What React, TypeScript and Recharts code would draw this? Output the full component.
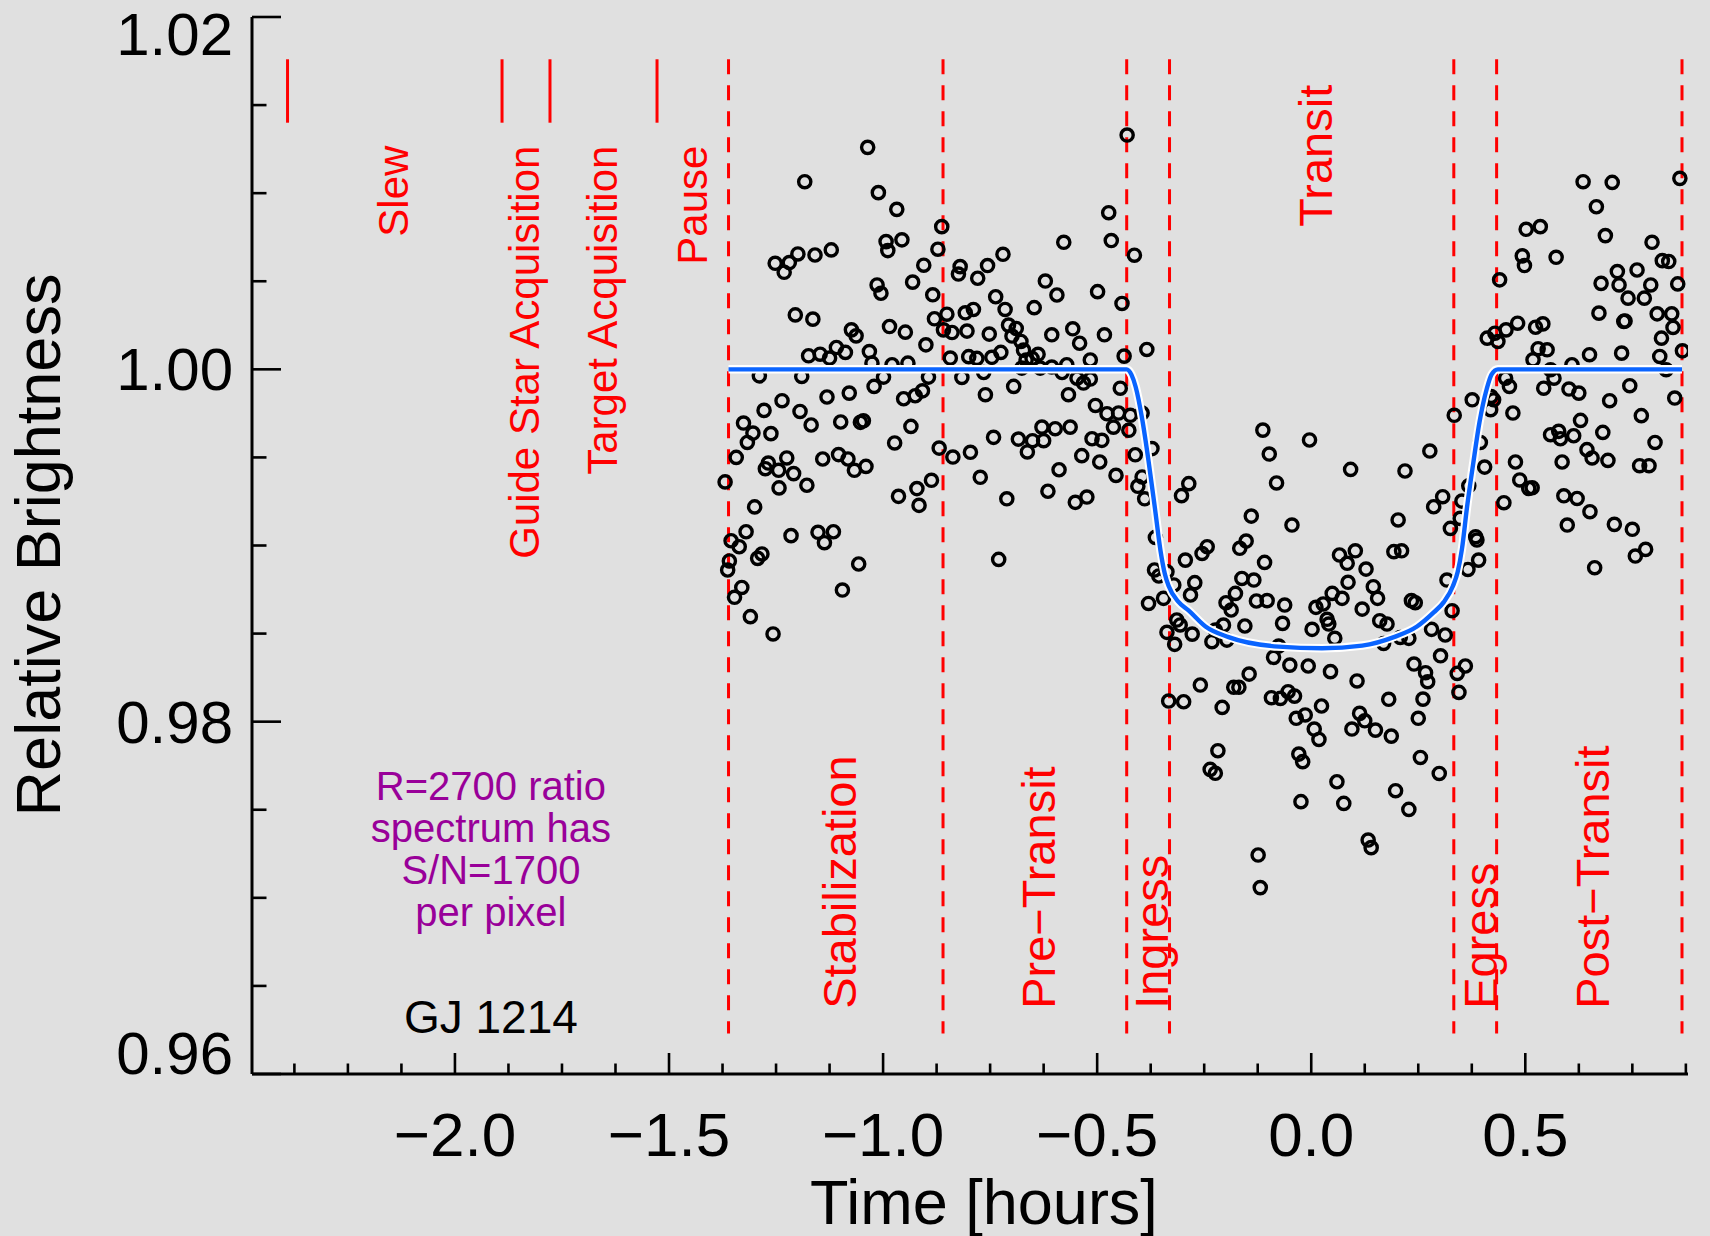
import React from 'react'
import { ComposedChart, Scatter, Line, XAxis, YAxis, ReferenceLine, ReferenceDot } from 'recharts'

const FONT = '"Liberation Sans", Arial, Helvetica, sans-serif'
const RED = '#ff0000'
const PURPLE = '#990099'
const BLUE = '#0a64ff'

// axis ticks
const xMajor = [-2.0, -1.5, -1.0, -0.5, 0.0, 0.5]
const xMinor = [-2.375, -2.25, -2.125, -1.875, -1.75, -1.625, -1.375, -1.25, -1.125, -0.875, -0.75, -0.625,
  -0.375, -0.25, -0.125, 0.125, 0.25, 0.375, 0.625, 0.75, 0.875]
const yMajor = [0.96, 0.98, 1.0, 1.02]
const yMinor = [0.965, 0.97, 0.975, 0.985, 0.99, 0.995, 1.005, 1.01, 1.015]

// phase boundaries (dashed) and acquisition marks (short solid), hours
const phaseLines = [-1.361, -0.86, -0.431, -0.331, 0.333, 0.433, 0.866]
const setupMarks = [-2.391, -1.89, -1.778, -1.528]

const upperLabels = [
  { text: 'Slew', t: -2.110 },
  { text: 'Guide Star Acquisition', t: -1.804 },
  { text: 'Target Acquisition', t: -1.621 },
  { text: 'Pause', t: -1.411 },
]
const lowerLabels = [
  { text: 'Stabilization', t: -1.063 },
  { text: 'Pre\u2212Transit', t: -0.598 },
  { text: 'Ingress', t: -0.334 },
  { text: 'Egress', t: 0.434 },
  { text: 'Post\u2212Transit', t: 0.696 },
]
const noteLines = [
  { text: 'R=2700 ratio', v: 0.97557 },
  { text: 'spectrum has', v: 0.97318 },
  { text: 'S/N=1700', v: 0.9708 },
  { text: 'per pixel', v: 0.96841 },
]

// transit model
const modelTimes = [-1.361, -0.431, -0.42, -0.41, -0.395, -0.38, -0.365, -0.352, -0.342, -0.333, -0.31, -0.286,
  -0.247, -0.193, -0.076, 0.025, 0.119, 0.193, 0.247, 0.286, 0.31, 0.331, 0.342, 0.352, 0.364, 0.378, 0.393,
  0.41, 0.421, 0.436, 0.866]
const modelFlux = [1.0, 1.0, 0.9997, 0.999, 0.9972, 0.9948, 0.9921, 0.9897, 0.9884, 0.9877, 0.9868, 0.9863,
  0.9854, 0.9848, 0.98426, 0.98417, 0.98432, 0.9848, 0.9854, 0.9862, 0.9868, 0.9877, 0.9885, 0.9898, 0.9922,
  0.9946, 0.997, 0.9989, 0.9997, 1.0, 1.0]

// observations [hours, relative brightness]
const stabilizationPts = [
  [-1.036, 1.0126], [-1.183, 1.01065], [-1.011, 1.01003], [-0.968, 1.00908], [-0.863, 1.0081], [-0.993, 1.00725],
  [-0.989, 1.00674], [-0.956, 1.00735], [-0.872, 1.00682], [-1.252, 1.00602], [-1.219, 1.00606], [-1.231, 1.00551],
  [-1.199, 1.00655], [-1.159, 1.00649], [-1.121, 1.00678], [-0.905, 1.00591], [-0.931, 1.00495], [-1.014, 1.00479],
  [-1.005, 1.00432], [-0.884, 1.00423], [-1.205, 1.00309], [-1.164, 1.00285], [-1.074, 1.00224], [-1.063, 1.0019],
  [-0.985, 1.00243], [-0.948, 1.00211], [-0.88, 1.00287], [-0.9, 1.00139], [-1.174, 1.00077], [-1.147, 1.00086],
  [-1.125, 1.00064], [-1.109, 1.00124], [-1.088, 1.00096], [-1.032, 1.00101], [-1.026, 1.00035], [-0.979, 1.00026],
  [-0.942, 1.00035], [-1.289, 0.99963], [-1.19, 0.9996], [-0.999, 0.99956], [-0.894, 0.99956], [-1.021, 0.99903],
  [-1.131, 0.99843], [-1.079, 0.99865], [-0.952, 0.99833], [-0.925, 0.9985], [-0.908, 0.99878], [-1.236, 0.99822],
  [-1.278, 0.99767], [-1.194, 0.99761], [-1.326, 0.99695], [-1.304, 0.99638], [-1.317, 0.99585], [-1.262, 0.99635],
  [-1.168, 0.99684], [-1.099, 0.99701], [-1.053, 0.99699], [-1.046, 0.99708], [-0.935, 0.99676], [-0.973, 0.99582],
  [-0.869, 0.99553], [-1.343, 0.995], [-1.225, 0.99497], [-1.268, 0.99468], [-1.275, 0.99436], [-1.244, 0.99427],
  [-1.209, 0.99408], [-1.141, 0.99491], [-1.104, 0.99516], [-1.082, 0.99491], [-1.067, 0.99427], [-1.04, 0.99449],
  [-1.369, 0.99361], [-1.243, 0.99327], [-1.178, 0.99342], [-0.887, 0.9937], [-0.921, 0.99323], [-0.964, 0.99279],
  [-0.916, 0.99228], [-1.3, 0.99219], [-1.32, 0.99078], [-1.355, 0.99027], [-1.336, 0.98993], [-1.359, 0.98912],
  [-1.363, 0.98861], [-1.293, 0.98927], [-1.283, 0.98952], [-1.215, 0.99056], [-1.152, 0.99075], [-1.116, 0.99078],
  [-1.137, 0.99016], [-1.057, 0.98895], [-1.095, 0.98747], [-1.33, 0.98762], [-1.347, 0.98706], [-1.31, 0.98596],
  [-1.257, 0.98498],
]
const preTransitPts = [
  [-0.851, 1.00313], [-0.859, 1.00224], [-0.839, 1.00209], [-0.843, 1.00064], [-0.837, 0.99502],
  [-0.43, 1.0133], [-0.473, 1.00889], [-0.467, 1.00731], [-0.578, 1.00721], [-0.72, 1.00653], [-0.756, 1.00589],
  [-0.82, 1.00583], [-0.824, 1.00541], [-0.779, 1.00517], [-0.621, 1.00501], [-0.594, 1.00422], [-0.499, 1.00441],
  [-0.442, 1.00374], [-0.737, 1.00412], [-0.715, 1.0034], [-0.647, 1.0035], [-0.808, 1.00321], [-0.789, 1.0034],
  [-0.804, 1.00217], [-0.752, 1.002], [-0.707, 1.00251], [-0.689, 1.00232], [-0.699, 1.00189], [-0.678, 1.00158],
  [-0.606, 1.00196], [-0.557, 1.0023], [-0.541, 1.00148], [-0.483, 1.00196], [-0.437, 1.00075], [-0.8, 1.00072],
  [-0.781, 1.00062], [-0.746, 1.00068], [-0.725, 1.00096], [-0.672, 1.00109], [-0.666, 1.00053], [-0.652, 1.00062],
  [-0.638, 1.00085], [-0.516, 1.00053], [-0.676, 1.00007], [-0.633, 1.00007], [-0.606, 1.00013], [-0.582, 0.99982],
  [-0.571, 1.00026], [-0.816, 0.99954], [-0.765, 0.99982], [-0.547, 0.9995], [-0.532, 0.99922], [-0.516, 0.99945],
  [-0.695, 0.99903], [-0.761, 0.99856], [-0.567, 0.99856], [-0.446, 0.99893], [-0.504, 0.99795], [-0.477, 0.99748],
  [-0.45, 0.99752], [-0.462, 0.99672], [-0.629, 0.99672], [-0.598, 0.99663], [-0.563, 0.99672], [-0.742, 0.99614],
  [-0.684, 0.99604], [-0.651, 0.99595], [-0.625, 0.99595], [-0.663, 0.99531], [-0.512, 0.99606], [-0.489, 0.99597],
  [-0.796, 0.99529], [-0.536, 0.9951], [-0.494, 0.99474], [-0.589, 0.9943], [-0.773, 0.99387], [-0.456, 0.99398],
  [-0.615, 0.99308], [-0.711, 0.99265], [-0.551, 0.99245], [-0.524, 0.99275], [-0.73, 0.98921],
]
const transitPts = [
  [-0.413, 1.00648], [-0.384, 1.00113], [-0.4225, 0.99739], [-0.395, 0.99752], [-0.426, 0.99654], [-0.372, 0.9955],
  [-0.411, 0.99515], [-0.395, 0.99389], [-0.405, 0.99336], [-0.389, 0.99265], [-0.286, 0.99351], [-0.303, 0.99283],
  [-0.364, 0.99046], [-0.366, 0.98861], [-0.356, 0.98827], [-0.337, 0.98851], [-0.321, 0.98776], [-0.38, 0.98671],
  [-0.345, 0.987], [-0.294, 0.98917], [-0.272, 0.98789], [-0.282, 0.98719], [-0.314, 0.98577], [-0.306, 0.98549],
  [-0.337, 0.98507], [-0.319, 0.98439], [-0.278, 0.98497], [-0.333, 0.98117], [-0.298, 0.98113],
  [-0.113, 0.99655], [-0.098, 0.99519], [-0.081, 0.99355], [-0.004, 0.99599], [0.092, 0.99432], [0.219, 0.99423],
  [0.277, 0.99536], [0.286, 0.9922],
  [-0.14, 0.99167], [-0.045, 0.99116], [0.203, 0.99145], [-0.255, 0.98955], [-0.243, 0.98993], [-0.167, 0.98984],
  [-0.152, 0.99025], [-0.109, 0.98904], [0.066, 0.98946], [0.084, 0.98899], [0.103, 0.9897], [0.128, 0.98866],
  [0.193, 0.98965], [0.211, 0.9897], [-0.162, 0.98813], [-0.134, 0.98804], [-0.177, 0.98728], [-0.199, 0.98675],
  [-0.187, 0.98634], [-0.128, 0.98685], [-0.103, 0.98687], [-0.062, 0.98662], [0.011, 0.98649], [0.028, 0.98668],
  [0.049, 0.98728], [0.072, 0.987], [0.086, 0.98791], [0.145, 0.98766], [0.155, 0.987], [0.119, 0.98639],
  [0.234, 0.98687], [0.243, 0.98675], [-0.205, 0.98548], [-0.224, 0.9852], [-0.155, 0.98543], [-0.067, 0.98558],
  [0.002, 0.98524], [0.037, 0.98581], [0.041, 0.98554], [0.055, 0.98473], [0.16, 0.98573], [0.177, 0.98554],
  [0.169, 0.98444], [0.208, 0.98478], [0.228, 0.98473], [0.281, 0.98524], [-0.232, 0.98454], [-0.197, 0.98463],
  [-0.076, 0.98429], [-0.088, 0.98365], [-0.05, 0.98321], [-0.007, 0.98316], [0.045, 0.98284], [0.107, 0.98231],
  [0.24, 0.98327], [0.267, 0.98278], [0.272, 0.98227], [-0.259, 0.98208], [-0.181, 0.98195], [-0.169, 0.98195],
  [-0.145, 0.9827], [-0.208, 0.98081], [-0.093, 0.98136], [-0.072, 0.98132], [-0.054, 0.9817], [-0.039, 0.98145],
  [0.024, 0.98089], [-0.035, 0.98019], [-0.014, 0.98038], [0.007, 0.97958], [0.018, 0.97899], [0.095, 0.97958],
  [0.113, 0.98047], [0.125, 0.98005], [0.15, 0.97952], [0.187, 0.97918], [0.181, 0.98127], [0.261, 0.98128],
  [0.25, 0.98019], [-0.218, 0.97835], [-0.236, 0.97729], [-0.224, 0.97707], [-0.029, 0.97816], [-0.02, 0.97773],
  [0.255, 0.97797], [0.06, 0.97659], [0.197, 0.97608], [-0.024, 0.97546], [0.076, 0.97536], [0.228, 0.97502],
  [0.133, 0.97328], [0.14, 0.97285], [-0.124, 0.97243], [-0.119, 0.97058],
  [0.411, 1.00177], [0.429, 1.00205], [0.376, 0.99827], [0.42, 0.99846], [0.426, 0.99827], [0.334, 0.99739],
  [0.419, 0.99771], [0.395, 0.99585], [0.405, 0.99445], [0.368, 0.99339], [0.307, 0.99277], [0.352, 0.99252],
  [0.325, 0.99097], [0.348, 0.99154], [0.384, 0.9905], [0.387, 0.99031], [0.391, 0.98917], [0.366, 0.98864],
  [0.317, 0.98804], [0.329, 0.9863], [0.313, 0.98492], [0.302, 0.98374], [0.341, 0.98274], [0.36, 0.98316],
  [0.345, 0.98166], [0.299, 0.97706],
]
const postTransitPts = [
  [0.635, 1.01065], [0.703, 1.01061], [0.861, 1.01084], [0.666, 1.00923], [0.502, 1.00795], [0.535, 1.0081],
  [0.687, 1.00759], [0.796, 1.00721], [0.493, 1.00644], [0.498, 1.00589], [0.572, 1.00636], [0.82, 1.00617],
  [0.835, 1.00612], [0.44, 1.00508], [0.677, 1.00488], [0.715, 1.00555], [0.719, 1.00479], [0.761, 1.00564],
  [0.793, 1.00479], [0.856, 1.00485], [0.74, 1.00404], [0.778, 1.00404], [0.672, 1.00319], [0.73, 1.00272],
  [0.733, 1.00274], [0.808, 1.00315], [0.842, 1.00315], [0.845, 1.00238], [0.818, 1.00177], [0.436, 1.00158],
  [0.455, 1.00224], [0.482, 1.00262], [0.524, 1.00239], [0.541, 1.00258], [0.53, 1.00117], [0.551, 1.00111],
  [0.518, 1.00054], [0.65, 1.00083], [0.725, 1.00092], [0.814, 1.00073], [0.867, 1.00105], [0.559, 0.99998],
  [0.609, 1.00026], [0.829, 0.99998], [0.454, 0.9995], [0.463, 0.99903], [0.567, 0.9995], [0.543, 0.99893],
  [0.602, 0.99888], [0.625, 0.99865], [0.744, 0.99907], [0.697, 0.99822], [0.849, 0.99837], [0.471, 0.99752],
  [0.771, 0.99737], [0.629, 0.9971], [0.559, 0.99629], [0.578, 0.99648], [0.582, 0.99606], [0.613, 0.99623],
  [0.681, 0.99642], [0.803, 0.99585], [0.644, 0.99544], [0.656, 0.99497], [0.693, 0.99483], [0.477, 0.99474],
  [0.586, 0.99474], [0.767, 0.99453], [0.789, 0.99453], [0.487, 0.99372], [0.508, 0.99324], [0.516, 0.99328],
  [0.45, 0.99243], [0.59, 0.99282], [0.621, 0.99267], [0.651, 0.99192], [0.598, 0.99116], [0.708, 0.9912],
  [0.75, 0.99092], [0.781, 0.98978], [0.757, 0.9894], [0.662, 0.98874],
]

const toRows = (pts: number[][]) => pts.map(([t, v]) => ({ t, v }))
const modelData = modelTimes.map((t, i) => ({ t, v: modelFlux[i] }))

const isIn = (list: number[], v: number) => list.some(m => Math.abs(m - v) < 1e-6)

function XTick(props: any) {
  const { x, y, payload } = props
  const major = isIn(xMajor, payload.value)
  const label = payload.value.toFixed(1).replace('-', '\u2212')
  return (
    <g>
      <line x1={x} y1={y} x2={x} y2={y - (major ? 21 : 10.5)} stroke="#000" strokeWidth={2.6} />
      {major && (
        <text x={x} y={y + 82} textAnchor="middle" fontSize={62} fontFamily={FONT} fill="#000">{label}</text>
      )}
    </g>
  )
}

function YTick(props: any) {
  const { x, y, payload } = props
  const major = isIn(yMajor, payload.value)
  let dy = 21
  if (Math.abs(payload.value - 1.02) < 1e-6) dy += 17
  if (Math.abs(payload.value - 0.96) < 1e-6) dy -= 21
  return (
    <g>
      <line x1={x} y1={y} x2={x + (major ? 29 : 14.5)} y2={y} stroke="#000" strokeWidth={2.6} />
      {major && (
        <text x={x - 19} y={y + dy} textAnchor="end" fontSize={60} fontFamily={FONT} fill="#000">
          {payload.value.toFixed(2)}
        </text>
      )}
    </g>
  )
}

const Ring = (p: any) => <circle cx={p.cx} cy={p.cy} r={6.1} fill="none" stroke="#000" strokeWidth={3.4} />

const vertText = (text: string, size: number, anchor: string, color = RED) => (p: any) => (
  <text x={p.cx} y={p.cy} transform={`rotate(-90 ${p.cx} ${p.cy})`} textAnchor={anchor}
    fontSize={size} fontFamily={FONT} fill={color}>{text}</text>
)

const flatText = (text: string, size: number, color: string) => (p: any) => (
  <text x={p.cx} y={p.cy} textAnchor="middle" fontSize={size} fontFamily={FONT} fill={color}>{text}</text>
)

export default function App() {
  return (
    <div style={{ position: 'absolute', left: 0, top: 0, width: 1710, height: 1236, background: '#e0e0e0' }}>
      <ComposedChart width={1710} height={1236} margin={{ top: 17, right: 22, bottom: 0, left: 0 }}>
        <XAxis dataKey="t" type="number" scale="linear" domain={[-2.474, 0.88]} allowDataOverflow
          ticks={[...xMajor, ...xMinor].sort((a, b) => a - b)} interval={0} tickSize={0} tickMargin={0}
          tickLine={false} height={162} axisLine={{ stroke: '#000', strokeWidth: 3 }}
          tick={(p: any) => <XTick {...p} />}
          label={{
            content: () => (
              <text x={984} y={1224} textAnchor="middle" fontSize={63} fontFamily={FONT} fill="#000">Time [hours]</text>
            ),
          }} />
        <YAxis dataKey="v" type="number" domain={[0.96, 1.02]} allowDataOverflow
          ticks={[...yMajor, ...yMinor].sort((a, b) => a - b)} interval={0} tickSize={0} tickMargin={0}
          tickLine={false} width={252} axisLine={{ stroke: '#000', strokeWidth: 3 }}
          tick={(p: any) => <YTick {...p} />}
          label={{
            content: () => (
              <text x={60} y={545} transform="rotate(-90 60 545)" textAnchor="middle" fontSize={63}
                fontFamily={FONT} fill="#000">Relative Brightness</text>
            ),
          }} />

        {phaseLines.map(t => (
          <ReferenceLine key={'p' + t} segment={[{ x: t, y: 1.0176 }, { x: t, y: 0.9623 }]}
            stroke={RED} strokeWidth={3} strokeDasharray="15 11" />
        ))}
        {setupMarks.map(t => (
          <ReferenceLine key={'s' + t} segment={[{ x: t, y: 1.0176 }, { x: t, y: 1.014 }]}
            stroke={RED} strokeWidth={3} />
        ))}

        <Scatter data={toRows(stabilizationPts)} dataKey="v" shape={Ring} isAnimationActive={false} />
        <Scatter data={toRows(preTransitPts)} dataKey="v" shape={Ring} isAnimationActive={false} />
        <Scatter data={toRows(transitPts)} dataKey="v" shape={Ring} isAnimationActive={false} />
        <Scatter data={toRows(postTransitPts)} dataKey="v" shape={Ring} isAnimationActive={false} />

        <Line data={modelData} dataKey="v" type="monotone" stroke="#ffffff" strokeWidth={8.5} dot={false}
          activeDot={false} isAnimationActive={false} zIndex={700} />
        <Line data={modelData} dataKey="v" type="monotone" stroke={BLUE} strokeWidth={4.4} dot={false}
          activeDot={false} isAnimationActive={false} zIndex={701} />

        {upperLabels.map(l => (
          <ReferenceDot key={l.text} x={l.t} y={1.0127} r={0} shape={vertText(l.text, 42, 'end')} />
        ))}
        {lowerLabels.map(l => (
          <ReferenceDot key={l.text} x={l.t} y={0.9637} r={0} shape={vertText(l.text, 47, 'start')} />
        ))}
        <ReferenceDot x={0.049} y={1.0081} r={0} shape={vertText('Transit', 47, 'start')} />
        {noteLines.map(n => (
          <ReferenceDot key={n.text} x={-1.916} y={n.v} r={0} shape={flatText(n.text, 40, PURPLE)} />
        ))}
        <ReferenceDot x={-1.916} y={0.96233} r={0} shape={flatText('GJ 1214', 46, '#000')} />
      </ComposedChart>
    </div>
  )
}
